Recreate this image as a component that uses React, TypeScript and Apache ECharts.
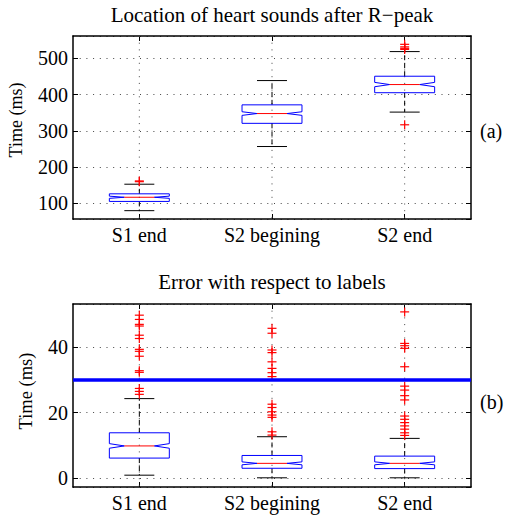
import React, { useEffect, useRef } from "react";
import * as echarts from "echarts";

const categories = ["S1 end", "S2 begining", "S2 end"];

// (a) Location of heart sounds after R-peak (ms)
const locLowerWhisker = [80, 257, 352];
const locQ1 = [105.5, 321, 405.5];
const locMedian = [117, 348, 428];
const locQ3 = [126.5, 372, 451];
const locUpperWhisker = [153, 439, 519];
const locNotch = [3, 5, 6];
const locOutliers: number[][] = [[160, 162], [], [317, 525, 528, 532, 539]];

// (b) Error with respect to labels (ms)
const errLowerWhisker = [1.0, 0.2, 0.2];
const errQ1 = [6.2, 3.1, 3.0];
const errMedian = [9.9, 4.6, 4.6];
const errQ3 = [13.9, 7.0, 6.8];
const errUpperWhisker = [24.3, 12.7, 12.2];
const errNotch = [0.7, 0.45, 0.45];
const errOutliers: number[][] = [
  [49.7, 48.4, 46.9, 46.4, 43.6, 42.6, 39.3, 38.7, 37.2, 32.8, 32.3, 27.4, 26.5, 25.6],
  [45.7, 44.2, 39.1, 38.3, 35.5, 33.5, 32.2, 31.0, 22.6, 21.6, 20.3, 19.3, 18.6, 14.2, 13.2],
  [50.7, 41.1, 40.4, 39.6, 34.0, 28.1, 26.9, 25.2, 23.9, 19.0, 18.0, 17.0, 16.0, 15.0, 13.9, 13.1],
];
const errThreshold = 30;

const FONT = "Liberation Serif";

function boxData(lo: number[], q1: number[], med: number[], q3: number[], hi: number[], notch: number[]) {
  return categories.map((_, i) => [i, lo[i], q1[i], med[i], q3[i], hi[i], notch[i]]);
}
function outlierData(out: number[][]) {
  const res: number[][] = [];
  out.forEach((vals, i) => vals.forEach((v) => res.push([i, v])));
  return res;
}

const renderBox = (params: any, api: any) => {
  const i = api.value(0);
  const lo = api.value(1), q1 = api.value(2), med = api.value(3), q3 = api.value(4), hi = api.value(5), n = api.value(6);
  const cx = api.coord([i, med])[0];
  const Y = (v: number) => api.coord([i, v])[1];
  const band = api.size([1, 0])[0];
  const hw = band * 0.226;
  const nw = hw * 0.5;
  const cs = params.coordSys;
  const yQ1 = Y(q1), yQ3 = Y(q3), yMed = Y(med), yNhi = Y(med + n), yNlo = Y(med - n), yLo = Y(lo), yHi = Y(hi);
  const black = "#000";
  return {
    type: "group",
    children: [
      { type: "line", shape: { x1: cx, y1: cs.y, x2: cx, y2: cs.y + cs.height }, style: { stroke: "#444", lineWidth: 1, lineDash: [1, 5.7] } },
      { type: "line", shape: { x1: cx, y1: yQ3, x2: cx, y2: yHi }, style: { stroke: black, lineWidth: 1, lineDash: [5, 3] } },
      { type: "line", shape: { x1: cx, y1: yQ1, x2: cx, y2: yLo }, style: { stroke: black, lineWidth: 1, lineDash: [5, 3] } },
      { type: "line", shape: { x1: cx - hw / 2, y1: yHi, x2: cx + hw / 2, y2: yHi }, style: { stroke: black, lineWidth: 1 } },
      { type: "line", shape: { x1: cx - hw / 2, y1: yLo, x2: cx + hw / 2, y2: yLo }, style: { stroke: black, lineWidth: 1 } },
      {
        type: "polygon",
        shape: {
          points: [
            [cx - hw, yQ1], [cx - hw, yNlo], [cx - nw, yMed], [cx - hw, yNhi], [cx - hw, yQ3],
            [cx + hw, yQ3], [cx + hw, yNhi], [cx + nw, yMed], [cx + hw, yNlo], [cx + hw, yQ1],
          ],
        },
        style: { fill: "none", stroke: "#0000ff", lineWidth: 1 },
      },
      { type: "line", shape: { x1: cx - nw, y1: yMed, x2: cx + nw, y2: yMed }, style: { stroke: "#ff0000", lineWidth: 1 } },
    ],
  };
};

const renderPlus = (params: any, api: any) => {
  const p = api.coord([api.value(0), api.value(1)]);
  const s = 4.5;
  return {
    type: "group",
    children: [
      { type: "line", shape: { x1: p[0] - s, y1: p[1], x2: p[0] + s, y2: p[1] }, style: { stroke: "#ff0000", lineWidth: 1.2 } },
      { type: "line", shape: { x1: p[0], y1: p[1] - s, x2: p[0], y2: p[1] + s }, style: { stroke: "#ff0000", lineWidth: 1.2 } },
    ],
  };
};

function makeAxes(gridIndex: number, min: number, max: number, splitNumber: number) {
  const axisLine = { show: true, onZero: false, lineStyle: { color: "#000", width: 1.5 } };
  const tick = { show: true, inside: true, length: 5, lineStyle: { color: "#000", width: 1 } };
  const xAxes = [
    {
      type: "category", gridIndex, position: "bottom", data: categories,
      axisLine, axisTick: { ...tick, alignWithLabel: true },
      axisLabel: { color: "#000", fontFamily: FONT, fontSize: 20, margin: 6 },
      splitLine: { show: false },
    },
    {
      type: "category", gridIndex, position: "top", data: categories,
      axisLine, axisTick: { ...tick, alignWithLabel: true },
      axisLabel: { show: false }, splitLine: { show: false },
    },
  ];
  const yAxes = [
    {
      type: "value", gridIndex, position: "left", min, max, splitNumber,
      axisLine, axisTick: tick,
      axisLabel: { color: "#000", fontFamily: FONT, fontSize: 20, margin: 5, showMinLabel: false, showMaxLabel: false },
      splitLine: { show: true, lineStyle: { color: "#444", width: 1, type: [1, 5.7] } },
    },
    {
      type: "value", gridIndex, position: "right", min, max, splitNumber,
      axisLine, axisTick: tick, axisLabel: { show: false }, splitLine: { show: false },
    },
  ];
  return { xAxes, yAxes };
}

export default function App() {
  const ref = useRef<HTMLDivElement>(null);
  useEffect(() => {
    if (!ref.current) return;
    const chart = echarts.init(ref.current, null, { renderer: "svg" });
    const a = makeAxes(0, 57, 562, 5);
    const b = makeAxes(1, -2.6, 53.1, 3);
    chart.setOption({
      animation: false,
      backgroundColor: "#fff",
      grid: [
        { left: 73, right: 34, top: 36, height: 183 },
        { left: 73, right: 34, top: 304, height: 183 },
      ],
      xAxis: [...a.xAxes, ...b.xAxes],
      yAxis: [...a.yAxes, ...b.yAxes],
      graphic: [
        { type: "text", x: 272, y: 15, style: { text: "Location of heart sounds after R\u2212peak", fontFamily: FONT, fontSize: 21, fill: "#000", textAlign: "center", textVerticalAlign: "middle" } },
        { type: "text", x: 272, y: 282, style: { text: "Error with respect to labels", fontFamily: FONT, fontSize: 21, fill: "#000", textAlign: "center", textVerticalAlign: "middle" } },
        { type: "text", x: 16, y: 120, rotation: Math.PI / 2, style: { text: "Time (ms)", fontFamily: FONT, fontSize: 18, fill: "#000", textAlign: "center", textVerticalAlign: "middle" } },
        { type: "text", x: 26, y: 391, rotation: Math.PI / 2, style: { text: "Time (ms)", fontFamily: FONT, fontSize: 18.5, fill: "#000", textAlign: "center", textVerticalAlign: "middle" } },
        { type: "text", x: 480, y: 131, style: { text: "(a)", fontFamily: FONT, fontSize: 20, fill: "#000", textAlign: "left", textVerticalAlign: "middle" } },
        { type: "text", x: 480, y: 402, style: { text: "(b)", fontFamily: FONT, fontSize: 20, fill: "#000", textAlign: "left", textVerticalAlign: "middle" } },
      ],
      series: [
        { type: "custom", xAxisIndex: 0, yAxisIndex: 0, renderItem: renderBox, encode: { x: 0, y: [1, 2, 3, 4, 5] }, data: boxData(locLowerWhisker, locQ1, locMedian, locQ3, locUpperWhisker, locNotch) },
        { type: "custom", xAxisIndex: 0, yAxisIndex: 0, renderItem: renderPlus, encode: { x: 0, y: 1 }, data: outlierData(locOutliers) },
        { type: "custom", xAxisIndex: 2, yAxisIndex: 2, renderItem: renderBox, encode: { x: 0, y: [1, 2, 3, 4, 5] }, data: boxData(errLowerWhisker, errQ1, errMedian, errQ3, errUpperWhisker, errNotch) },
        { type: "custom", xAxisIndex: 2, yAxisIndex: 2, renderItem: renderPlus, encode: { x: 0, y: 1 }, data: outlierData(errOutliers) },
        {
          type: "line", xAxisIndex: 2, yAxisIndex: 2, data: [], z: 5,
          markLine: { silent: true, symbol: "none", label: { show: false }, lineStyle: { color: "#0000ff", width: 3.5, type: "solid" }, data: [{ yAxis: errThreshold }] },
        },
      ],
    });
    return () => chart.dispose();
  }, []);
  return <div ref={ref} style={{ width: 505, height: 519, position: "absolute", left: 0, top: 0 }} />;
}
